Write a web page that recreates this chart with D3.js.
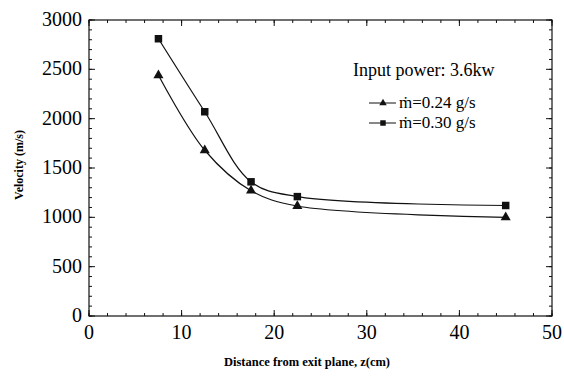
<!DOCTYPE html>
<html>
<head>
<meta charset="utf-8">
<script src="https://cdn.jsdelivr.net/npm/d3@7"></script>
<style>
  body { margin: 0; background: #fff; }
</style>
</head>
<body>
<div id="chart"></div>
<script>
const distance = [7.5, 12.5, 17.5, 22.5, 45];
const velocity024 = [2440, 1680, 1270, 1115, 1000];
const velocity030 = [2810, 2070, 1360, 1210, 1120];
const xTicks = [0, 10, 20, 30, 40, 50];
const yTicks = [0, 500, 1000, 1500, 2000, 2500, 3000];
const legendTitle = "Input power: 3.6kw";
const seriesNames = ["ṁ=0.24 g/s", "ṁ=0.30 g/s"];

const serif = "Times New Roman, Liberation Serif, serif";

const margin = {top: 20, right: 12, bottom: 66, left: 89},
    width = 564 - margin.left - margin.right,
    height = 382 - margin.top - margin.bottom;

const svg = d3.select("#chart").append("svg")
    .attr("width", 564)
    .attr("height", 382)
    .attr("font-family", serif)
    .append("g")
    .attr("transform", "translate(" + margin.left + "," + margin.top + ")");

const x = d3.scaleLinear().domain([0, 50]).range([0, 463]);
const y = d3.scaleLinear().domain([0, 3000]).range([height, 0]);

// frame
svg.append("rect")
    .attr("width", x(50)).attr("height", height)
    .attr("fill", "none").attr("stroke", "#111").attr("stroke-width", 1.2);

// minor + major ticks, inward on all four sides
const xMinor = d3.range(0, 50.1, 2);
const yMinor = d3.range(0, 3001, 100);

function ticks(sel, vals, len, axis) {
    vals.forEach(function (v) {
        if (axis === "x") {
            sel.append("line").attr("x1", x(v)).attr("x2", x(v)).attr("y1", height).attr("y2", height - len);
            sel.append("line").attr("x1", x(v)).attr("x2", x(v)).attr("y1", 0).attr("y2", len);
        } else {
            sel.append("line").attr("y1", y(v)).attr("y2", y(v)).attr("x1", 0).attr("x2", len);
            sel.append("line").attr("y1", y(v)).attr("y2", y(v)).attr("x1", x(50)).attr("x2", x(50) - len);
        }
    });
}
const tg = svg.append("g").attr("stroke", "#111").attr("stroke-width", 1);
ticks(tg, xMinor, 3, "x");
ticks(tg, yMinor, 3, "y");
ticks(tg, xTicks, 6, "x");
ticks(tg, yTicks, 6, "y");

// tick labels
svg.append("g").selectAll("text").data(xTicks).enter().append("text")
    .attr("x", function (d) { return x(d); })
    .attr("y", height + 23)
    .attr("text-anchor", "middle")
    .attr("font-size", 20)
    .text(function (d) { return d; });

svg.append("g").selectAll("text").data(yTicks).enter().append("text")
    .attr("x", -7)
    .attr("y", function (d) { return y(d) + 6; })
    .attr("text-anchor", "end")
    .attr("font-size", 20)
    .text(function (d) { return d; });

// axis titles
svg.append("text")
    .attr("x", 218).attr("y", height + 50)
    .attr("text-anchor", "middle")
    .attr("font-size", 12.5).attr("font-weight", "bold")
    .text("Distance from exit plane, z(cm)");

svg.append("text")
    .attr("transform", "translate(-66," + (165 - margin.top) + ") rotate(-90)")
    .attr("text-anchor", "middle")
    .attr("font-size", 12).attr("font-weight", "bold")
    .text("Velocity (m/s)");

// curves
const line = d3.line()
    .x(function (d) { return x(d[0]); })
    .y(function (d) { return y(d[1]); })
    .curve(d3.curveCatmullRom.alpha(0.5));

const series = [
    {name: seriesNames[0], values: d3.zip(distance, velocity024), shape: d3.symbolTriangle},
    {name: seriesNames[1], values: d3.zip(distance, velocity030), shape: d3.symbolSquare}
];

series.forEach(function (s) {
    svg.append("path")
        .attr("d", line(s.values))
        .attr("fill", "none").attr("stroke", "#111").attr("stroke-width", 1.2);
    svg.append("g").selectAll("path").data(s.values).enter().append("path")
        .attr("transform", function (d) { return "translate(" + x(d[0]) + "," + y(d[1]) + ")"; })
        .attr("d", d3.symbol().type(s.shape).size(s.shape === d3.symbolSquare ? 56 : 44))
        .attr("fill", "#111");
});

// legend
svg.append("text")
    .attr("x", 264).attr("y", 56)
    .attr("font-size", 18)
    .text(legendTitle);

series.forEach(function (s, i) {
    const ly = 83 + i * 20;
    const g = svg.append("g");
    g.append("line").attr("x1", 280).attr("x2", 307).attr("y1", ly).attr("y2", ly)
        .attr("stroke", "#111").attr("stroke-width", 1);
    g.append("path")
        .attr("transform", "translate(294," + ly + ")")
        .attr("d", d3.symbol().type(s.shape).size(s.shape === d3.symbolSquare ? 30 : 24))
        .attr("fill", "#111");
    g.append("text")
        .attr("x", 310).attr("y", ly + 5)
        .attr("font-size", 17)
        .text(s.name);
});
</script>
</body>
</html>
